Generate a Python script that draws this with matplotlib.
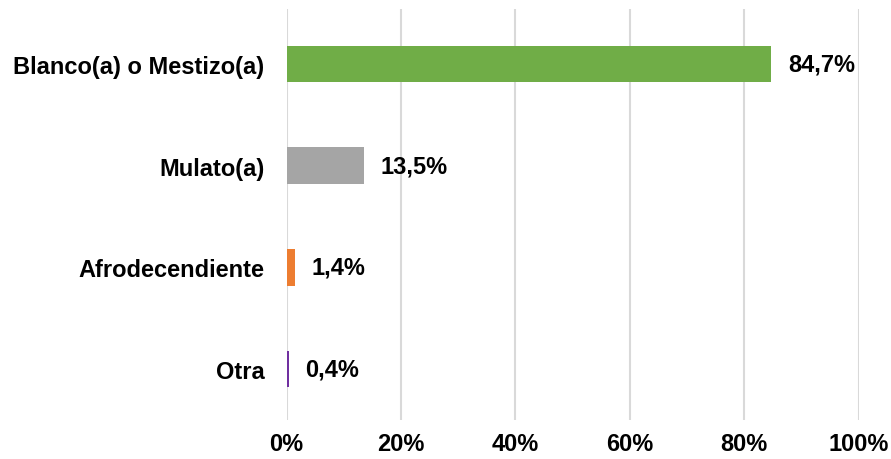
import matplotlib.pyplot as plt
from matplotlib.ticker import FuncFormatter

plt.rcParams['font.family'] = ['Liberation Sans', 'DejaVu Sans']

categorias = ['Otra', 'Afrodecendiente', 'Mulato(a)', 'Blanco(a) o Mestizo(a)']
valores = [0.4, 1.4, 13.5, 84.7]
colores = ['#7030A0', '#ED7D31', '#A5A5A5', '#70AD47']
xticks = [0, 20, 40, 60, 80, 100]

fig = plt.figure(figsize=(8.91, 4.6), dpi=100)
ax = fig.add_axes([0.3216, 0.0848, 0.6421, 0.8935])

y = range(len(categorias))
ax.barh(y, valores, height=0.36, color=colores, zorder=3)

for yi, v in zip(y, valores):
    ax.annotate(f"{v:.1f}%".replace('.', ','), (v, yi), xytext=(12, 0),
                textcoords='offset points', ha='left', va='center',
                fontsize=17, fontweight='bold')

ax.set_xlim(0, 100)
ax.set_ylim(-0.5, 3.54)
ax.set_xticks(xticks)
ax.xaxis.set_major_formatter(FuncFormatter(lambda x, p: f"{x:.0f}%"))
ax.set_yticks(list(y))
ax.set_yticklabels(categorias)
ax.grid(axis='x', color='#D9D9D9', linewidth=1.5, zorder=0)
ax.tick_params(axis='both', length=0, labelsize=17)
ax.tick_params(axis='y', pad=16)
ax.tick_params(axis='x', pad=9)
for lbl in ax.get_xticklabels() + ax.get_yticklabels():
    lbl.set_fontweight('bold')
for s in ax.spines.values():
    s.set_visible(False)

fig.savefig('out.png', dpi=100)
